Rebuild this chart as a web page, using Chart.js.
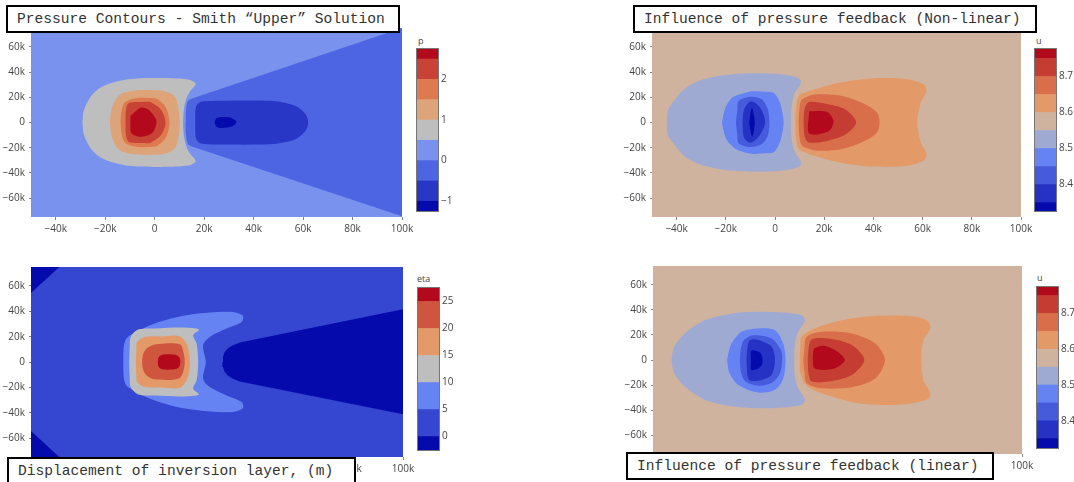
<!DOCTYPE html>
<html>
<head>
<meta charset="utf-8">
<script src="https://cdn.jsdelivr.net/npm/chart.js@4.4.1/dist/chart.umd.min.js"></script>
<style>
  body { margin: 0; width: 1074px; height: 482px; overflow: hidden; position: relative; background: #fff; font-family: "Open Sans", sans-serif; }
  canvas { position: absolute; }
  .ttl { position: absolute; box-sizing: border-box; border: 2px solid #000; background: #fff; z-index: 5;
         font-family: "Liberation Mono", "Courier New", monospace; font-size: 14.6px; color: #333;
         white-space: nowrap; display: flex; align-items: center; padding-left: 9px; }
  .cbt { position: absolute; font-size: 9px; line-height: 12px; color: #444; }
</style>
</head>
<body>
<div class="ttl" style="left:6px;top:5px;width:394px;height:28px">Pressure Contours - Smith “Upper” Solution</div>
<div class="ttl" style="left:633px;top:5px;width:404px;height:28px">Influence of pressure feedback (Non-linear)</div>
<div class="ttl" style="left:7px;top:457px;width:349px;height:28px">Displacement of inversion layer, (m)</div>
<div class="ttl" style="left:626px;top:452px;width:368px;height:28px">Influence of pressure feedback (linear)</div>
<span class="cbt" style="left:418px;top:35px">p</span>
<span class="cbt" style="left:1036px;top:35px">u</span>
<span class="cbt" style="left:417px;top:273px">eta</span>
<span class="cbt" style="left:1037px;top:272px">u</span>

<script>
// axes (x, y in thousands of metres)
const X_MIN = -50, X_MAX = 100, Y_MIN = -75, Y_MAX = 75;
const X_TICKS = [-40, -20, 0, 20, 40, 60, 80, 100];
const X_TICK_LABELS = ['−40k', '−20k', '0', '20k', '40k', '60k', '80k', '100k'];
const Y_TICKS = [-60, -40, -20, 0, 20, 40, 60];
const Y_TICK_LABELS = ['−60k', '−40k', '−20k', '0', '20k', '40k', '60k'];

// contour levels (band edges) and colorbar ticks
const P_LEVELS = [-1.24, -1, -0.5, 0, 0.5, 1, 1.5, 2, 2.5, 2.746];
const P_TICKS = [-1, 0, 1, 2];
const P_TICK_LABELS = ['−1', '0', '1', '2'];
const U_NL_LEVELS = [8.3264, 8.35, 8.4, 8.45, 8.5, 8.55, 8.6, 8.65, 8.7, 8.75, 8.7764];
const U_LIN_LEVELS = [8.324, 8.35, 8.4, 8.45, 8.5, 8.55, 8.6, 8.65, 8.7, 8.75, 8.774];
const U_TICKS = [8.4, 8.5, 8.6, 8.7];
const U_TICK_LABELS = ['8.4', '8.5', '8.6', '8.7'];
const ETA_LEVELS = [-2.5, 0, 5, 10, 15, 20, 25, 27.5];
const ETA_TICKS = [0, 5, 10, 15, 20, 25];
const ETA_TICK_LABELS = ['0', '5', '10', '15', '20', '25'];

// --- pressure p : filled contour outlines [x, y]
const P_BG = [[-50, -75], [-50, 75], [100, 75], [100, -75]];
const P_WEDGE = [[12.5, 0], [12.6, 8], [12.9, 14], [13.5, 17.5], [14.8, 18.8], [100, 75], [100, -74.5], [14.8, -18.8], [13.5, -17.5], [12.9, -14], [12.6, -8]];
const P_LOW1 = [[16.4, 0], [16.6, 12], [17.8, 15.5], [20, 16.8], [26.5, 17.3], [46.7, 17.3], [53, 15.5], [57.5, 12.6], [61, 6.5], [62.1, 0], [61, -6.5], [57.5, -12.6], [53, -15.5], [46.7, -17.3], [26.5, -17.5], [20, -17], [17.8, -15.8], [16.6, -12]];
const P_LOW2 = [[24.2, 0], [25, 3.3], [27, 4.4], [30.5, 3.9], [33.1, 0.5], [31.5, -3], [27, -4.4], [25, -3.4]];
const P_HIGH0 = [[-29.2, 0], [-28.6, 10], [-25.9, 20.5], [-22.5, 27], [-17.8, 31.2], [-12, 34], [-7.1, 35], [0, 35.3], [6.4, 35.2], [11, 34.8], [14.4, 33.8], [16.6, 31], [16, 28.5], [14.4, 25], [12.8, 19], [11.8, 10], [11.5, 0], [11.8, -10], [12.8, -19], [14.4, -25], [16, -28.5], [16.6, -31], [14.4, -33.8], [11, -34.8], [6.4, -35.2], [0, -35.3], [-7.1, -35], [-12, -34], [-17.8, -31.2], [-22.5, -27], [-25.9, -20.5], [-28.6, -10]];
const P_HIGH1 = [[-18.1, 0], [-17.5, 10], [-16.3, 16.5], [-13.8, 22.5], [-10, 24.8], [-4, 25.7], [3.7, 25], [7, 22.5], [8.6, 19], [9.7, 10], [10.1, 0], [9.7, -10], [8.6, -19], [7, -22.5], [3.7, -25], [-4, -25.7], [-10, -24.8], [-13.8, -22.5], [-16.3, -16.5], [-17.5, -10]];
const P_HIGH2 = [[-13.8, 0], [-13.3, 10], [-11.8, 16.5], [-7.1, 19.5], [-2, 19.5], [1, 18.7], [4.5, 12], [6, 0], [4.5, -12], [1, -18.7], [-2, -19.5], [-7.1, -19.5], [-11.8, -16.5], [-13.3, -10]];
const P_HIGH3 = [[-11.8, 0], [-11.6, 10], [-10.4, 15.5], [-5, 16.3], [-1.7, 16], [2.6, 10], [4.4, 0], [2.6, -10], [-1.7, -16], [-5, -16.3], [-10.4, -15.5], [-11.6, -10]];
const P_HIGH4 = [[-9.8, 5], [-5.7, 11.8], [-2.4, 10], [0.3, 3.5], [0.7, -1], [-1, -8.4], [-5.7, -11.5], [-9.4, -8.4], [-9.8, -1]];

// --- u, non-linear
const UN_BG = [[-50, -75], [-50, 75], [100, 75], [100, -75]];
const UN_NEG1 = [[-44, 0], [-43.4, 10.3], [-40.6, 18.3], [-37.2, 26.2], [-31.1, 33], [-24, 36.5], [-17.5, 38.3], [-8, 39], [1.4, 38.5], [7, 37], [10.3, 34.1], [10.3, 30.2], [8.5, 25], [7.4, 19.6], [6.6, 10], [6.5, 0], [6.6, -10], [7.4, -19.6], [8.5, -25], [10.3, -30.2], [10.3, -34.1], [7, -37], [1.4, -38.5], [-8, -39], [-17.5, -38.3], [-24, -36.5], [-31.1, -33], [-37.2, -26.2], [-40.6, -18.3], [-43.4, -10.3]];
const UN_NEG2 = [[-21.6, 0], [-20.3, 11], [-17.5, 19.6], [-13, 23], [-9.4, 24.8], [-4, 24.5], [-0.6, 23.6], [1.5, 18], [2.8, 10], [3.5, 0], [2.8, -10], [1.5, -18], [-0.6, -23.6], [-4, -24.5], [-9.4, -24.8], [-15.5, -21.4], [-18.8, -16], [-20.3, -10.9]];
const UN_NEG3 = [[-15.9, 0], [-15.3, 10], [-14.8, 16.9], [-10.1, 20.4], [-5.3, 18.3], [-2.9, 10.3], [-2.3, 0], [-2.9, -10.3], [-5.3, -17], [-10.1, -19.5], [-14.8, -16.5], [-15.3, -10]];
const UN_NEG4 = [[-13.2, 0], [-12.6, 10], [-9.7, 16.9], [-6, 11.7], [-4, 0], [-6.7, -11.3], [-10.1, -16.1], [-12.6, -12]];
const UN_NEG5 = [[-10.5, 0], [-9.9, 8], [-9.3, 11.7], [-8.6, 6], [-8.2, 0], [-8.6, -7], [-9.3, -11.3], [-10, -6]];
const UN_POS1 = [[8.3, 0], [8.6, 12], [9.6, 20.9], [13.7, 24.8], [25.9, 31.5], [39.5, 35], [53.1, 34.5], [60.5, 30.2], [61.6, 24.8], [59.2, 15.6], [57.8, 0], [59.2, -15.6], [61.6, -24.8], [60.5, -30.2], [53.1, -34.5], [39.5, -35], [25.9, -31.5], [13.7, -24.8], [9.6, -20.9], [8.6, -12]];
const UN_POS2 = [[9.6, 0], [10, 12], [11, 18.3], [16.4, 22.2], [27.3, 21], [36.8, 14.3], [41.5, 7.7], [42.5, 0], [41.5, -7.7], [36.8, -14.3], [27.3, -21], [16.4, -22.2], [11, -18.3], [10, -12]];
const UN_POS3 = [[11.6, 0], [12, 10.5], [13.7, 16.1], [20.5, 14.8], [28.6, 10.3], [33, 0], [28.6, -9.5], [20.5, -14.8], [13.7, -15.8], [12, -10.5]];
const UN_POS4 = [[13.9, 9], [21.2, 8.3], [23.8, 1], [21.8, -6.9], [13.9, -8.7]];

// --- eta, displacement of inversion layer
const E_BG = [[-50, -75], [-50, 75], [100, 75], [100, -75]];
const E_CORNER_TOP = [[-50, 75], [-38.6, 75], [-50, 54.5]];
const E_CORNER_BOT = [[-50, -75], [-38.6, -75], [-50, -54.5]];
const E_WEDGE = [[27.2, 0], [27.4, 4], [28, 7.5], [29.2, 10.5], [31, 12.8], [34.2, 15.3], [100, 41.7], [100, -41.3], [34.2, -15.3], [31, -12.8], [29.2, -10.5], [28, -7.5], [27.4, -4]];
const E_POS1 = [[-12.8, 0], [-12.6, 12], [-11.4, 19], [-7, 24], [-2, 29], [5, 33.5], [12.7, 36.9], [22, 39], [31.5, 39.5], [35.5, 36.4], [34.9, 31.6], [28.9, 26.4], [22.1, 19.8], [19.4, 13.2], [20.5, 0], [19.4, -13.2], [22.1, -19.8], [28.9, -26.4], [34.9, -31.6], [35.5, -36.4], [31.5, -39.5], [22, -39], [12.7, -36.9], [5, -33.5], [-2, -29], [-7, -24], [-11.4, -19], [-12.6, -12]];
const E_POS2 = [[-10.4, 0], [-10.2, 12], [-9.8, 19.8], [-6.8, 25.6], [0, 26.5], [11.4, 27.2], [17.7, 25.6], [15.4, 21.1], [16.8, 14.5], [17.4, 0], [16.8, -14.5], [15.4, -21.1], [17.7, -25.6], [11.4, -27.2], [0, -26.5], [-6.8, -25.6], [-9.8, -19.8], [-10.2, -12]];
const E_POS3 = [[-7.7, 0], [-7.5, 10], [-7.2, 15.8], [-4.1, 19.8], [3, 20.2], [10, 20.3], [13, 13.2], [14.1, 0], [13, -13.2], [10, -20.3], [3, -20.2], [-4.1, -19.8], [-7.2, -15.8], [-7.5, -10]];
const E_POS4 = [[-5.2, 0], [-4.8, 6], [-3.4, 10.6], [0, 13.8], [10, 14], [11.6, 6.6], [12, 0], [11.3, -8], [9.5, -13.2], [0, -13.7], [-3.4, -10.6], [-4.8, -6]];
const E_POS5 = [[1.1, 0], [1.5, 4], [3, 5.8], [8.5, 5.5], [10, 3], [10, -3], [8.5, -5.5], [3, -5.8], [1.5, -4]];

// --- u, linear
const UL_BG = [[-50, -75], [-50, 75], [100, 75], [100, -75]];
const UL_NEG1 = [[-42.5, 0], [-41.5, 10], [-37.1, 21.2], [-29, 31.7], [-18.1, 37], [-8, 38.5], [-0.4, 38.3], [6, 37.3], [10.4, 35.7], [11.8, 31.7], [9, 22.5], [7.7, 13.2], [7.4, 0], [7.7, -13.2], [9, -22.5], [11.8, -31.7], [10.4, -35.7], [6, -37.3], [-0.4, -38.3], [-8, -38.5], [-18.1, -37], [-29, -31.7], [-37.1, -21.2], [-41.5, -10]];
const UL_NEG2 = [[-19.9, 0], [-19, 8], [-18.1, 13.2], [-14, 22.5], [-7.2, 25.2], [-0.4, 23.8], [2.9, 13.2], [3.9, 0], [2.9, -15], [-0.4, -23.8], [-7.2, -26], [-15.4, -19.8], [-19, -10]];
const UL_NEG3 = [[-14.7, 0], [-14.2, 10], [-13, 15.9], [-9.3, 19.8], [-1.8, 17.2], [2, 7.9], [2.5, 0], [1.5, -11], [-1.5, -18], [-7, -20.6], [-12.5, -17], [-14.2, -10]];
const UL_NEG4 = [[-12, 0], [-11.6, 10], [-10.6, 15.9], [-7.2, 15.9], [-1.8, 10.6], [-0.4, 0], [-1.8, -11.9], [-6, -15.9], [-10.6, -16.4], [-11.6, -12]];
const UL_NEG5 = [[-10.2, 0], [-10, 7.5], [-6.5, 6], [-5.6, 2], [-5.6, -3], [-7, -6.5], [-10, -7.9]];
const UL_POS1 = [[9.7, 0], [9.9, 10], [10.4, 18.5], [15.8, 25.2], [26.7, 31.7], [38.9, 35], [55.2, 35], [61.3, 31.7], [62.7, 25.2], [59.9, 15.9], [59, 0], [59.9, -15.9], [62.7, -26.5], [61.3, -31.7], [49.8, -35.7], [35, -35], [22.6, -29.1], [12.8, -21.2], [9.9, -10]];
const UL_POS2 = [[11.1, 0], [11.6, 10], [12.5, 18.5], [18.6, 22.5], [30.8, 21.2], [40.3, 13.2], [44.3, 0], [40.3, -14.8], [30.8, -21.7], [18.6, -22.5], [12.5, -18.5], [11.6, -10]];
const UL_POS3 = [[12.9, 0], [13.3, 10], [14.5, 16.4], [21.3, 17.2], [30.8, 11.9], [35.9, 0], [30.8, -11.9], [21.3, -17.2], [14.5, -17.2], [13.3, -12]];
const UL_POS4 = [[14.9, 0], [15.1, 6], [15.6, 9.3], [19.2, 11.4], [24, 7.9], [28, 0], [24, -6.6], [19.2, -7.9], [15.6, -6.6], [15.1, -4]];

// which band (index into the levels) each outline fills, back to front
const P_REGIONS = [[P_BG, 3], [P_WEDGE, 2], [P_LOW1, 1], [P_LOW2, 0], [P_HIGH0, 4], [P_HIGH1, 5], [P_HIGH2, 6], [P_HIGH3, 7], [P_HIGH4, 8]];
const UN_REGIONS = [[UN_BG, 5], [UN_NEG1, 4], [UN_NEG2, 3], [UN_NEG3, 2], [UN_NEG4, 1], [UN_NEG5, 0], [UN_POS1, 6], [UN_POS2, 7], [UN_POS3, 8], [UN_POS4, 9]];
const E_REGIONS = [[E_BG, 1], [E_CORNER_TOP, 0], [E_CORNER_BOT, 0], [E_WEDGE, 0], [E_POS1, 2], [E_POS2, 3], [E_POS3, 4], [E_POS4, 5], [E_POS5, 6]];
const UL_REGIONS = [[UL_BG, 5], [UL_NEG1, 4], [UL_NEG2, 3], [UL_NEG3, 2], [UL_NEG4, 1], [UL_NEG5, 0], [UL_POS1, 6], [UL_POS2, 7], [UL_POS3, 8], [UL_POS4, 9]];

// colours (old plotly RdBu sampled per band)
const P_COLORS = ['rgb(5,10,172)', 'rgb(41,55,199)', 'rgb(77,101,226)', 'rgb(120,146,237)', 'rgb(190,190,190)', 'rgb(222,164,121)', 'rgb(221,122,80)', 'rgb(200,66,54)', 'rgb(178,10,28)'];
const U_COLORS = ['rgb(5,10,172)', 'rgb(37,50,196)', 'rgb(69,91,220)', 'rgb(101,131,243)', 'rgb(159,170,211)', 'rgb(207,179,158)', 'rgb(227,153,104)', 'rgb(217,110,74)', 'rgb(197,60,51)', 'rgb(178,10,28)'];
const ETA_COLORS = ['rgb(5,10,172)', 'rgb(53,70,208)', 'rgb(101,131,243)', 'rgb(190,190,190)', 'rgb(227,153,104)', 'rgb(207,85,62)', 'rgb(178,10,28)'];
const SHARP = new Set([P_BG, P_WEDGE, UN_BG, E_BG, E_CORNER_TOP, E_CORNER_BOT, E_WEDGE, UL_BG]);

const AXIS_FONT = { family: "'Open Sans', sans-serif", size: 10 };
const TICK_COLOR = '#444';

function placeCanvas(left, top, w, h) {
  const c = document.createElement('canvas');
  c.width = w; c.height = h;
  c.style.left = left + 'px';
  c.style.top = top + 'px';
  c.style.width = w + 'px';
  c.style.height = h + 'px';
  document.body.appendChild(c);
  return c;
}

function drawContour(area, regions, colors) {
  const yw = 40, xh = 26, padT = 12, padR = 20;
  const w = area.r - area.l + yw + padR;
  const h = area.b - area.t + xh + padT;
  const cv = placeCanvas(area.l - yw, area.t - padT, w, h);
  const datasets = regions.map(([pts, band], i) => ({
    data: pts.concat([pts[0]]),
    backgroundColor: colors[band],
    borderWidth: 0,
    pointRadius: 0,
    fill: 'shape',
    tension: SHARP.has(pts) ? 0 : 0.3,
    order: -i
  }));
  new Chart(cv, {
    type: 'line',
    data: { datasets },
    options: {
      responsive: false, animation: false, events: [],
      layout: { padding: { top: padT, right: padR, left: 0, bottom: 0 } },
      plugins: { legend: { display: false }, tooltip: { enabled: false } },
      scales: {
        x: {
          type: 'linear', min: X_MIN, max: X_MAX,
          afterFit: s => { s.height = xh; },
          afterBuildTicks: s => { s.ticks = X_TICKS.map(v => ({ value: v })); },
          ticks: { callback: (v, i) => X_TICK_LABELS[i], font: AXIS_FONT, color: TICK_COLOR, padding: 3, maxRotation: 0, autoSkip: false },
          grid: { drawOnChartArea: false, tickLength: 3, color: '#888' },
          border: { display: false }
        },
        y: {
          type: 'linear', min: Y_MIN, max: Y_MAX,
          afterFit: s => { s.width = yw; },
          afterBuildTicks: s => { s.ticks = Y_TICKS.map(v => ({ value: v })); },
          ticks: { callback: (v, i) => Y_TICK_LABELS[i], font: AXIS_FONT, color: TICK_COLOR, padding: 4, autoSkip: false },
          grid: { drawOnChartArea: false, tickLength: 2, color: '#888' },
          border: { display: false }
        }
      }
    }
  });
}

const outline = {
  id: 'outline',
  afterDraw(chart) {
    const { ctx, chartArea: a } = chart;
    ctx.save();
    ctx.strokeStyle = '#777';
    ctx.lineWidth = 1;
    ctx.strokeRect(a.left - 0.5, a.top - 0.5, a.right - a.left + 1, a.bottom - a.top + 1);
    ctx.restore();
  }
};

function drawColorbar(area, levels, colors, ticks, labels) {
  const padL = 2, padT = 12, padB = 12, yw = 36;
  const w = area.r - area.l + padL + yw;
  const h = area.b - area.t + padT + padB;
  const cv = placeCanvas(area.l - padL, area.t - padT, w, h);
  new Chart(cv, {
    type: 'bar',
    data: {
      labels: [''],
      datasets: colors.map((c, i) => ({
        data: [[levels[i], levels[i + 1]]],
        backgroundColor: c, borderWidth: 0,
        barPercentage: 1, categoryPercentage: 1, grouped: false
      }))
    },
    options: {
      responsive: false, animation: false, events: [],
      layout: { padding: { left: padL, top: padT, bottom: padB, right: 0 } },
      plugins: { legend: { display: false }, tooltip: { enabled: false } },
      scales: {
        x: { display: false },
        y: {
          position: 'right', min: levels[0], max: levels[levels.length - 1],
          afterFit: s => { s.width = yw; },
          afterBuildTicks: s => { s.ticks = ticks.map(v => ({ value: v })); },
          ticks: { callback: (v, i) => labels[i], font: AXIS_FONT, color: TICK_COLOR, padding: 3 },
          grid: { display: false, drawTicks: false, tickLength: 0 },
          border: { display: false }
        }
      }
    },
    plugins: [outline]
  });
}

drawContour({ l: 31, r: 402, t: 28, b: 217 }, P_REGIONS, P_COLORS);
drawContour({ l: 652, r: 1021, t: 28, b: 217 }, UN_REGIONS, U_COLORS);
drawContour({ l: 31, r: 403, t: 267, b: 457 }, E_REGIONS, ETA_COLORS);
drawContour({ l: 653, r: 1022, t: 266, b: 454 }, UL_REGIONS, U_COLORS);

drawColorbar({ l: 417, r: 438, t: 49, b: 211 }, P_LEVELS, P_COLORS, P_TICKS, P_TICK_LABELS);
drawColorbar({ l: 1035, r: 1056, t: 49, b: 211 }, U_NL_LEVELS, U_COLORS, U_TICKS, U_TICK_LABELS);
drawColorbar({ l: 418, r: 439, t: 288, b: 450 }, ETA_LEVELS, ETA_COLORS, ETA_TICKS, ETA_TICK_LABELS);
drawColorbar({ l: 1037, r: 1058, t: 287, b: 448 }, U_LIN_LEVELS, U_COLORS, U_TICKS, U_TICK_LABELS);
</script>
</body>
</html>
